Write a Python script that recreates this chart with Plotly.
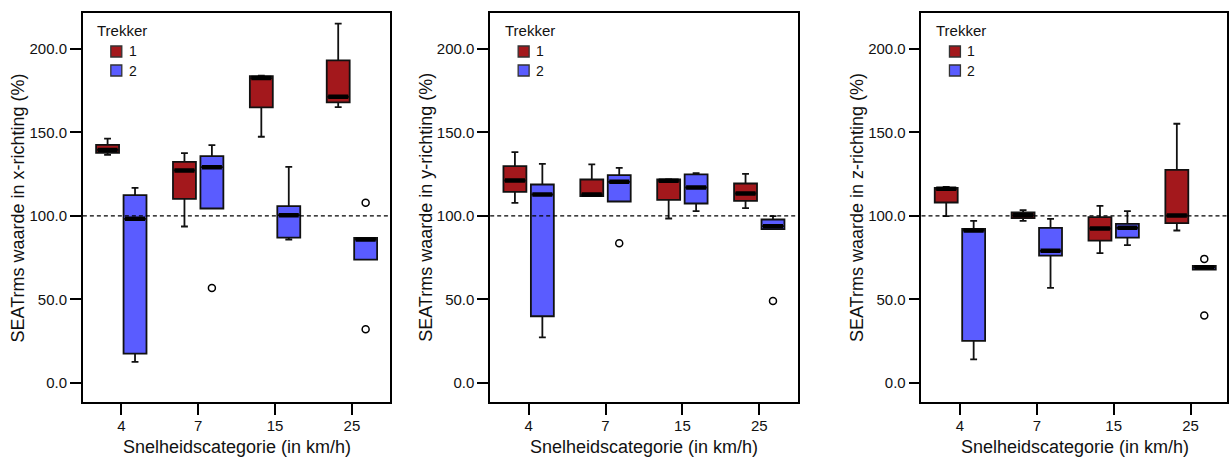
import plotly.graph_objects as go
from plotly.subplots import make_subplots

# ---------------- data ----------------
CATEGORIES = ['4', '7', '15', '25']
TREKKERS = ['1', '2']
REF_LEVEL = 100.0

Y_TITLES = ['SEATrms waarde in x-richting (%)',
            'SEATrms waarde in y-richting (%)',
            'SEATrms waarde in z-richting (%)']
X_TITLE = 'Snelheidscategorie (in km/h)'
LEGEND_TITLE = 'Trekker'

# x-richting
x_t1_low = [136.6, 93.6, 147.4, 165.2]
x_t1_q1 = [137.8, 110.2, 165.0, 168.0]
x_t1_med = [139.5, 127.2, 182.6, 171.4]
x_t1_q3 = [142.5, 132.4, 183.8, 193.2]
x_t1_high = [146.3, 137.6, 184.0, 215.2]
x_t2_low = [12.4, 104.4, 85.8, 73.8]
x_t2_q1 = [17.4, 104.4, 87.0, 73.8]
x_t2_med = [98.2, 129.2, 100.4, 85.8]
x_t2_q3 = [112.4, 135.8, 105.8, 86.8]
x_t2_high = [116.8, 142.4, 129.4, 86.8]
x_t1_out_cat, x_t1_out_val = [], []
x_t2_out_cat = ['7', '25', '25']
x_t2_out_val = [56.8, 107.8, 32.0]

# y-richting
y_t1_low = [107.8, 111.8, 98.4, 104.6]
y_t1_q1 = [114.4, 111.8, 109.6, 109.0]
y_t1_med = [121.2, 112.8, 121.0, 113.4]
y_t1_q3 = [129.8, 121.8, 121.8, 119.4]
y_t1_high = [138.2, 130.8, 122.0, 125.2]
y_t2_low = [27.2, 108.6, 102.8, 92.0]
y_t2_q1 = [39.8, 108.6, 107.4, 92.0]
y_t2_med = [112.8, 120.4, 117.0, 93.8]
y_t2_q3 = [118.8, 124.4, 124.8, 97.8]
y_t2_high = [131.2, 128.8, 125.6, 99.8]
y_t1_out_cat, y_t1_out_val = [], []
y_t2_out_cat = ['7', '25']
y_t2_out_val = [83.6, 49.0]

# z-richting
z_t1_low = [99.8, 97.0, 77.6, 91.2]
z_t1_q1 = [108.0, 98.6, 85.2, 95.6]
z_t1_med = [116.2, 100.4, 92.4, 100.2]
z_t1_q3 = [116.8, 102.0, 99.2, 127.6]
z_t1_high = [117.4, 103.4, 106.0, 155.2]
z_t2_low = [14.0, 56.8, 82.4, 67.8]
z_t2_q1 = [25.0, 76.2, 87.0, 67.8]
z_t2_med = [91.2, 79.0, 92.8, 69.2]
z_t2_q3 = [92.2, 92.8, 95.2, 70.0]
z_t2_high = [97.0, 98.2, 102.8, 70.0]
z_t1_out_cat, z_t1_out_val = [], []
z_t2_out_cat = ['25', '25']
z_t2_out_val = [74.2, 40.2]

panels = [
    {'1': (x_t1_low, x_t1_q1, x_t1_med, x_t1_q3, x_t1_high, x_t1_out_cat, x_t1_out_val),
     '2': (x_t2_low, x_t2_q1, x_t2_med, x_t2_q3, x_t2_high, x_t2_out_cat, x_t2_out_val)},
    {'1': (y_t1_low, y_t1_q1, y_t1_med, y_t1_q3, y_t1_high, y_t1_out_cat, y_t1_out_val),
     '2': (y_t2_low, y_t2_q1, y_t2_med, y_t2_q3, y_t2_high, y_t2_out_cat, y_t2_out_val)},
    {'1': (z_t1_low, z_t1_q1, z_t1_med, z_t1_q3, z_t1_high, z_t1_out_cat, z_t1_out_val),
     '2': (z_t2_low, z_t2_q1, z_t2_med, z_t2_q3, z_t2_high, z_t2_out_cat, z_t2_out_val)},
]

# ---------------- style ----------------
FILL = {'1': '#A3181C', '2': '#5A5CFF'}
EDGE = '#111111'
TEXT = '#111111'
FONT = 'Liberation Sans, Arial, sans-serif'
W, H = 1229, 457
PANEL_LEFT = [83, 491, 923]
PANEL_W = 308
X_DOMAINS = [(83 / W, 391 / W), (491 / W, 799 / W), (923 / W, 1.0)]
X_RANGES = [(-0.5, 3.5), (-0.5, 3.5), (-0.5, 3.5 - 2 / 77)]
Y_DOMAIN = (55 / H, 444 / H)
Y_RANGE = (-11.6, 221.6)
GAP = 0.286


def py(px_from_top):
    return (H - px_from_top) / H


fig = make_subplots(rows=1, cols=3)

for i, panel in enumerate(panels):
    col = i + 1
    ag = f'panel{col}'
    for t in TREKKERS:
        low, q1, med, q3, high, ocat, oval = panel[t]
        fig.add_trace(go.Box(
            x=CATEGORIES, q1=q1, median=med, q3=q3,
            lowerfence=low, upperfence=high,
            name=t, fillcolor=FILL[t],
            line=dict(color=EDGE, width=1.8),
            whiskerwidth=0.3, boxpoints=False,
            offsetgroup=t, alignmentgroup=ag,
            showlegend=False, hoverinfo='skip'), row=1, col=col)
        fig.add_trace(go.Scatter(
            x=CATEGORIES, y=med, mode='markers',
            marker=dict(symbol='line-ew', size=14.3,
                        line=dict(width=4.5, color='black')),
            offsetgroup=t, alignmentgroup=ag,
            showlegend=False, hoverinfo='skip'), row=1, col=col)
        fig.add_trace(go.Scatter(
            x=ocat, y=oval, mode='markers',
            marker=dict(symbol='circle-open', size=7, color='black',
                        line=dict(width=1.5, color='black')),
            offsetgroup=t, alignmentgroup=ag,
            showlegend=False, hoverinfo='skip'), row=1, col=col)

    xa = 'xaxis' if i == 0 else f'xaxis{col}'
    ya = 'yaxis' if i == 0 else f'yaxis{col}'
    fig.layout[xa].update(
        domain=X_DOMAINS[i], range=X_RANGES[i], type='category',
        categoryorder='array', categoryarray=CATEGORIES,
        showline=True, mirror=True, linecolor='black', linewidth=1.6,
        ticks='outside', ticklen=11, tickwidth=1.6, tickcolor='black',
        ticklabelstandoff=-2,
        showgrid=False, zeroline=False,
        tickfont=dict(family=FONT, size=15, color=TEXT))
    fig.layout[ya].update(
        domain=Y_DOMAIN, range=Y_RANGE,
        tick0=0, dtick=50, tickformat='.1f',
        showline=True, mirror=True, linecolor='black', linewidth=1.6,
        ticks='outside', ticklen=11, tickwidth=1.6, tickcolor='black',
        showgrid=False, zeroline=False,
        tickfont=dict(family=FONT, size=15, color=TEXT))

    xref = 'x' if i == 0 else f'x{col}'
    yref = 'y' if i == 0 else f'y{col}'
    fig.add_shape(type='line', xref=f'{xref} domain', yref=yref,
                  x0=0, x1=1, y0=REF_LEVEL, y1=REF_LEVEL,
                  line=dict(color='black', width=1.3, dash='4px,3px'),
                  layer='above')

    left = PANEL_LEFT[i]
    fig.add_annotation(text=X_TITLE, xref='paper', yref='paper',
                       x=(left + PANEL_W / 2) / W, y=py(447),
                       xanchor='center', yanchor='middle', showarrow=False,
                       font=dict(family=FONT, size=18, color=TEXT))
    fig.add_annotation(text=Y_TITLES[i], xref='paper', yref='paper',
                       x=(left - 65) / W, y=(Y_DOMAIN[0] + Y_DOMAIN[1]) / 2,
                       xanchor='center', yanchor='middle', textangle=-90,
                       showarrow=False,
                       font=dict(family=FONT, size=18, color=TEXT))

    # legend (per panel)
    fig.add_annotation(text=LEGEND_TITLE, xref='paper', yref='paper',
                       x=(left + 12.5) / W, y=py(31),
                       xanchor='left', yanchor='middle', showarrow=False,
                       font=dict(family=FONT, size=15, color=TEXT))
    for k, t in enumerate(TREKKERS):
        cy = 51.5 + 19 * k
        fig.add_shape(type='rect', xref='paper', yref='paper',
                      x0=(left + 28) / W, x1=(left + 39) / W,
                      y0=py(cy - 5.5), y1=py(cy + 5.5),
                      fillcolor=FILL[t], line=dict(color='#333', width=1.3))
        fig.add_annotation(text=t, xref='paper', yref='paper',
                           x=(left + 44) / W, y=py(cy),
                           xanchor='left', yanchor='middle', showarrow=False,
                           font=dict(family=FONT, size=14, color=TEXT))

fig.update_layout(
    width=W, height=H,
    margin=dict(l=0, r=0, t=0, b=0),
    paper_bgcolor='white', plot_bgcolor='white',
    boxmode='group', boxgap=GAP, boxgroupgap=0.164,
    scattermode='group', scattergap=GAP,
    font=dict(family=FONT),
    showlegend=False,
)

fig.write_html('out.html')
